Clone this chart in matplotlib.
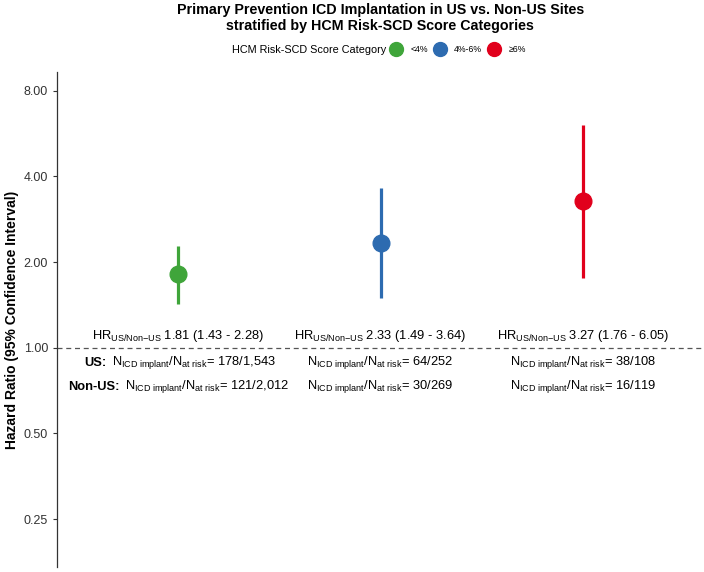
import matplotlib
matplotlib.use("Agg")
import matplotlib.pyplot as plt
from matplotlib.lines import Line2D

plt.rcParams['font.family'] = ['Liberation Sans', 'DejaVu Sans']
plt.rcParams['mathtext.fontset'] = 'custom'
plt.rcParams['mathtext.rm'] = 'Liberation Sans'
plt.rcParams['mathtext.it'] = 'Liberation Sans:italic'
plt.rcParams['mathtext.bf'] = 'Liberation Sans:bold'

# data
categories = ['<4%', '4%-6%', '≥6%']
hr = [1.81, 2.33, 3.27]
ci_low = [1.43, 1.49, 1.76]
ci_high = [2.28, 3.64, 6.05]
us_counts = ['178/1,543', '64/252', '38/108']
nonus_counts = ['121/2,012', '30/269', '16/119']
colors = ['#3fa53a', '#2d6bb0', '#e1001c']
yticks = [0.25, 0.5, 1, 2, 4, 8]

fig = plt.figure(figsize=(7.04, 5.72), dpi=100)
ax = fig.add_axes([0.081, 0.009, 0.919, 0.865])

xs = [1, 2, 3]
for x, h, lo, hi, c in zip(xs, hr, ci_low, ci_high, colors):
    ax.plot([x, x], [lo, hi], color=c, lw=2.3, solid_capstyle='butt')
    ax.plot(x, h, 'o', color=c, markersize=12)

ax.axhline(1, color='#555555', lw=0.9, ls=(0, (4, 3)))

ax.set_yscale('log', base=2)
ax.set_ylim(0.17, 9.3)
ax.set_xlim(0.4, 3.6)
ax.set_yticks(yticks)
ax.set_yticklabels(['%.2f' % v for v in yticks])
ax.minorticks_off()
ax.tick_params(axis='y', labelsize=9, colors='#333333', length=3, width=0.8)
ax.set_xticks([])
for s in ['top', 'right', 'bottom']:
    ax.spines[s].set_visible(False)
ax.spines['left'].set_color('#333333')
ax.spines['left'].set_linewidth(0.9)
ax.set_ylabel('Hazard Ratio (95% Confidence Interval)', fontsize=10,
              fontweight='bold', labelpad=3)

hr_sub = r'$\mathrm{HR}_{\mathrm{US/Non{-}US}}$'
n_sub = r'$\mathrm{N}_{\mathrm{ICD\ implant}}/\mathrm{N}_{\mathrm{at\ risk}}$'
fs = 9.3

for i, x in enumerate(xs):
    ax.text(x, 1.10, '%s %.2f (%.2f - %.2f)' % (hr_sub, hr[i], ci_low[i], ci_high[i]),
            ha='center', va='center', fontsize=fs)

# first column carries the row labels
us_lab = ax.text(1 + (83 - 177) / 202, 0.885, 'US:', ha='left', va='center',
                 fontsize=fs, fontweight='bold')
non_lab = ax.text(1 + (67 - 177) / 202, 0.73, 'Non-US:', ha='left', va='center',
                  fontsize=fs, fontweight='bold')
ax.annotate(n_sub + '= ' + us_counts[0], xy=(1, 0.5), xycoords=us_lab,
            xytext=(4, 0), textcoords='offset points', ha='left', va='center',
            fontsize=fs)
ax.annotate(n_sub + '= ' + nonus_counts[0], xy=(1, 0.5), xycoords=non_lab,
            xytext=(4, 0), textcoords='offset points', ha='left', va='center',
            fontsize=fs)
for i in [1, 2]:
    ax.text(xs[i], 0.885, n_sub + '= ' + us_counts[i], ha='center',
            va='center', fontsize=fs)
    ax.text(xs[i], 0.73, n_sub + '= ' + nonus_counts[i], ha='center',
            va='center', fontsize=fs)

fig.suptitle('Primary Prevention ICD Implantation in US vs. Non-US Sites\n'
             'stratified by HCM Risk-SCD Score Categories',
             x=0.54, y=0.995, fontsize=10.3, fontweight='bold', linespacing=1.17)

fig.text(386 / 704, 1 - 50 / 572, 'HCM Risk-SCD Score Category', ha='right',
         va='center', fontsize=7.8)
handles = [Line2D([], [], marker='o', ls='', color=c, markersize=10) for c in colors]
fig.legend(handles, categories, ncol=3, loc='center left',
           bbox_to_anchor=(392 / 704, 1 - 50 / 572), frameon=False, fontsize=6.3,
           handletextpad=1.1, columnspacing=0.9, handlelength=1.0,
           borderpad=0, borderaxespad=0)

fig.savefig('out.png', dpi=100)
